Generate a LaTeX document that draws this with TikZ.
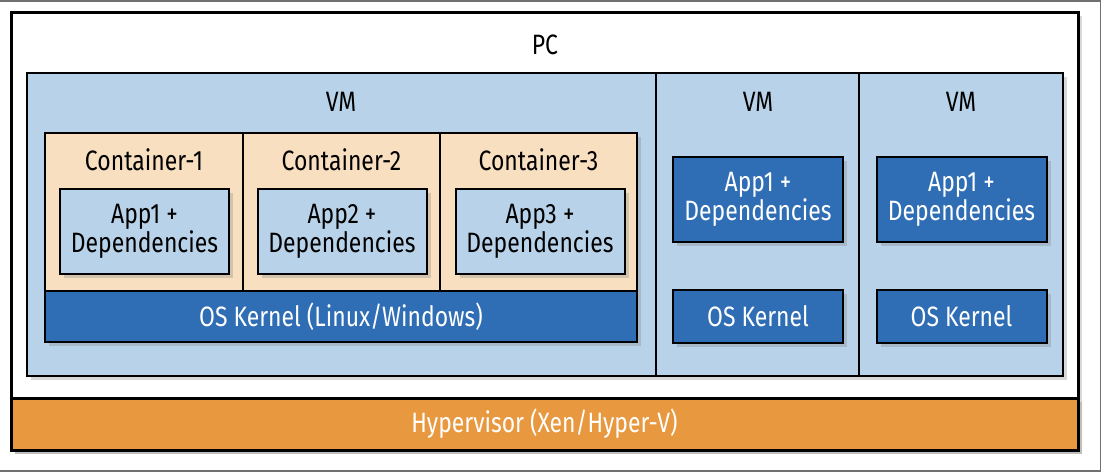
\documentclass[tikz,border=0pt]{standalone}
\usepackage{fontspec}
\setmainfont[FakeStretch=0.82]{Fira Sans}
\usepackage{tikz}
\usetikzlibrary{shadows}
\definecolor{vmblue}{HTML}{B8D3E9}
\definecolor{appblue}{HTML}{2F6DB5}
\definecolor{peach}{HTML}{F8DFC0}
\definecolor{hyporange}{HTML}{E8983E}
\definecolor{framegray}{HTML}{707070}

\begin{document}
\begin{tikzpicture}[x=1pt, y=-1pt,
    every node/.style={font=\fontsize{28}{29}\selectfont, align=center, inner sep=0pt},
    box/.style={draw, rectangle, line width=2pt, drop shadow={shadow xshift=4pt, shadow yshift=-4pt, opacity=0.3}},
    pcbox/.style={box, line width=3pt, fill=white},
    vmbox/.style={box, fill=vmblue, minimum width=#1, minimum height=303pt},
    contbox/.style={box, fill=peach, minimum width=#1, minimum height=158pt},
    appbox/.style={box, fill=vmblue, minimum width=169pt, minimum height=85pt},
    darkbox/.style={box, fill=appblue, text=white, minimum width=#1},
    label/.style={}]
\useasboundingbox (0,0) rectangle (1102,472);
\draw[framegray, line width=1.5pt] (0,0.75) -- (1100.5,0.75) -- (1100.5,470.75) -- (0,470.75);

\draw (544.5,231) node[pcbox, minimum width=1067pt, minimum height=438pt] (pc) {};
\draw (545,45) node[label] (pclabel) {PC};

\draw (341.5,224.5) node[vmbox=629pt] (vma) {};
\draw (757.5,224.5) node[vmbox=203pt] (vmb) {};
\draw (961,224.5) node[vmbox=204pt] (vmc) {};
\draw (341,102) node[label] (vmalabel) {VM};
\draw (758,102) node[label] (vmblabel) {VM};
\draw (961,102) node[label] (vmclabel) {VM};

\draw (144,212) node[contbox=198pt] (conta) {};
\draw (341.5,212) node[contbox=197pt] (contb) {};
\draw (538.5,212) node[contbox=197pt] (contc) {};
\draw (144,160) node[label] (contalabel) {Container-1};
\draw (341.5,160) node[label] (contblabel) {Container-2};
\draw (538.5,160) node[label] (contclabel) {Container-3};

\draw (144.5,231.5) node[appbox] (appa) {App1 +\\Dependencies};
\draw (342,231.5) node[appbox] (appb) {App2 +\\Dependencies};
\draw (540,231.5) node[appbox] (appc) {App3 +\\Dependencies};
\draw (341,316.5) node[darkbox=592pt, minimum height=51pt] (kernela) {OS Kernel (Linux/Windows)};

\draw (758,199.5) node[darkbox=170pt, minimum height=85pt] (appvmb) {App1 +\\Dependencies};
\draw (758,316.5) node[darkbox=170pt, minimum height=53pt] (kernelb) {OS Kernel};
\draw (961.5,199.5) node[darkbox=170pt, minimum height=85pt] (appvmc) {App1 +\\Dependencies};
\draw (961.5,316.5) node[darkbox=170pt, minimum height=53pt] (kernelc) {OS Kernel};

\draw (544.5,424) node[box, line width=3pt, fill=hyporange, text=white, minimum width=1067pt, minimum height=52pt] (hyper) {Hypervisor (Xen/Hyper-V)};
\end{tikzpicture}
\end{document}
